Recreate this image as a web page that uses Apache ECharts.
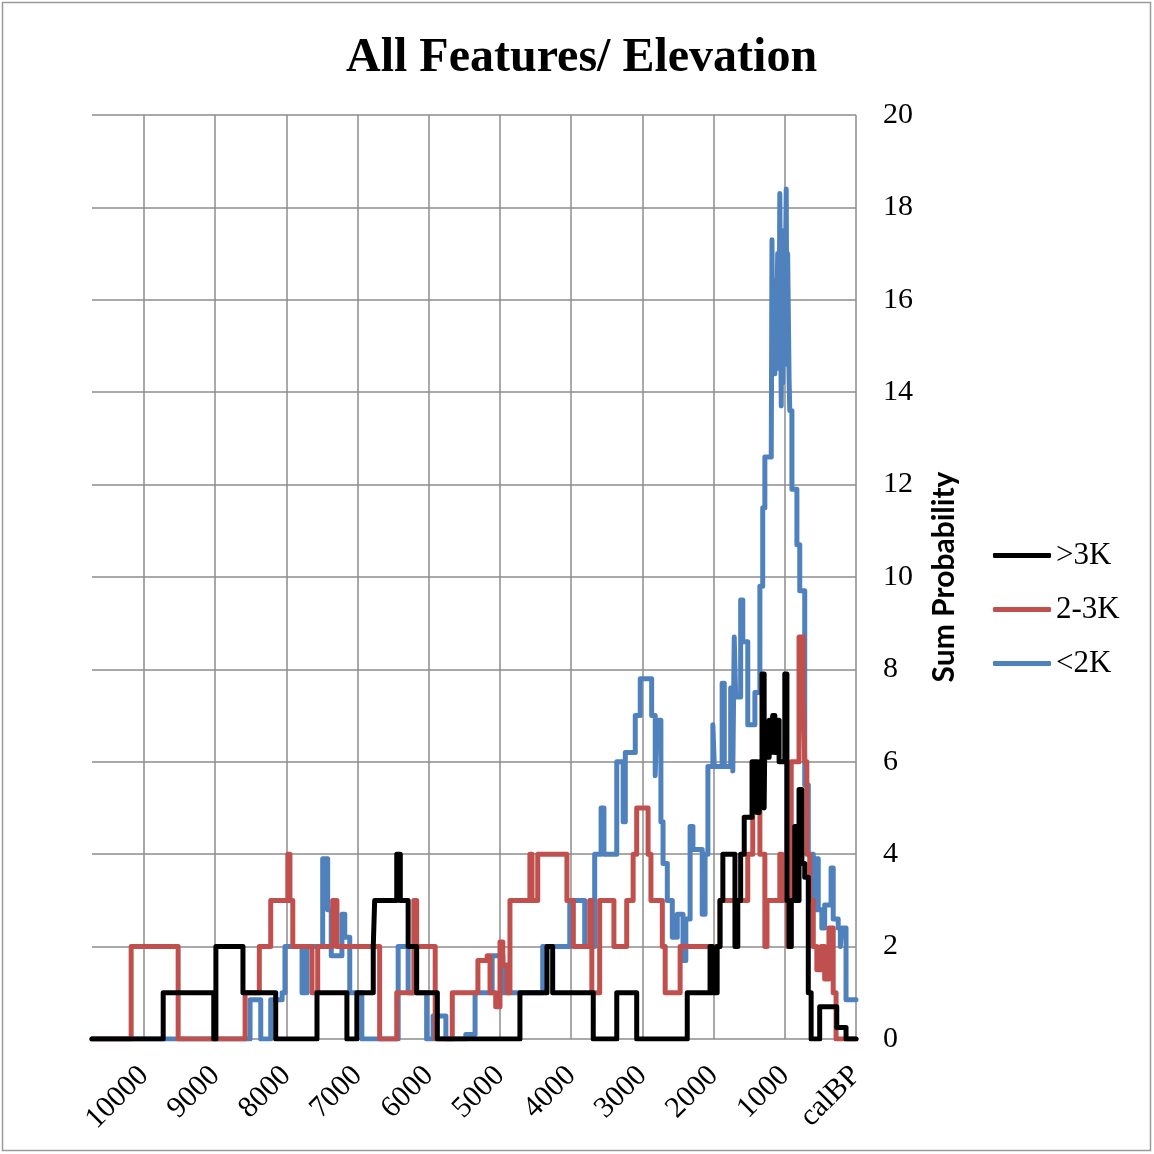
<!DOCTYPE html>
<html>
<head>
<meta charset="utf-8">
<title>All Features/ Elevation</title>
<script src="https://cdn.jsdelivr.net/npm/echarts@6/dist/echarts.min.js"></script>
<style>
  html, body { margin: 0; padding: 0; background: #ffffff; }
  #chart { width: 1154px; height: 1154px; }
</style>
</head>
<body>
<div id="chart"></div>
<script>
// Summed probability per elevation class, as step breakpoints [calBP, value]:
// each value holds from its year until the next (younger) year in the list.
const over3K = [
  [10730, 0], [9730, 1], [9020, 0], [8990, 2], [8610, 1], [8150, 0],
  [7570, 1], [7150, 0], [7010, 1], [6780, 2], [6760, 3], [6450, 4], [6400, 3],
  [6290, 2], [6170, 1], [5880, 0], [4720, 1], [4340, 2], [4260, 1], [3690, 0],
  [3360, 1], [3080, 0], [2370, 1], [2050, 2], [2020, 1], [1950, 2], [1910, 3],
  [1870, 4], [1700, 2], [1660, 3], [1620, 4], [1570, 4.8], [1460, 6], [1390, 4.9],
  [1360, 6], [1320, 7.9], [1290, 5], [1280, 6.6], [1250, 6.1], [1220, 6.9],
  [1190, 6.2], [1170, 7.0], [1140, 6.2], [1110, 6.9], [1080, 6.0], [1000, 7.9],
  [970, 3], [940, 2], [910, 3], [860, 4.6], [830, 3], [800, 5.4], [760, 3.8],
  [720, 3.5], [670, 1], [630, 0], [510, 0.7], [270, 0.25], [140, 0], [0, 0]
];

const from2to3K = [
  [10730, 0], [10180, 2], [9520, 0], [8580, 1], [8380, 2], [8220, 3], [7980, 4],
  [7950, 3], [7910, 2], [7640, 1], [7560, 2], [7350, 3], [7290, 2], [6690, 0],
  [6450, 1], [6210, 3], [6170, 2], [5910, 0], [5670, 1], [5310, 1.7], [5180, 1.8],
  [5140, 1.0], [5060, 0.7], [5000, 2.1], [4960, 1.6], [4900, 1.0], [4860, 3],
  [4580, 4], [4550, 3], [4470, 4], [4060, 3], [3970, 2], [3740, 3], [3710, 1],
  [3600, 3], [3400, 2], [3220, 3], [3130, 4], [3080, 5], [2920, 4], [2880, 3],
  [2720, 2], [2680, 1], [2470, 2], [1910, 3], [1520, 4], [1450, 5], [1350, 4],
  [1280, 2], [1250, 3], [1070, 4], [1040, 3], [960, 2], [910, 6], [800, 8.7],
  [740, 7.5], [720, 6], [690, 4], [650, 3], [600, 2], [550, 1.5], [490, 2],
  [440, 1.3], [380, 2.4], [320, 1], [280, 0], [0, 0]
];

const under2K = [
  [10730, 0], [8510, 0.85], [8360, 0], [8220, 0.85], [8060, 1], [8020, 2],
  [7780, 1], [7710, 2], [7490, 3.9], [7420, 2.8], [7370, 1.8], [7220, 2.7],
  [7180, 2.2], [7110, 1], [6940, 0], [6430, 2], [6290, 1], [6030, 0], [5940, 0.5],
  [5760, 0], [5480, 0.1], [5350, 1], [5110, 1.8], [4960, 1], [4400, 2], [4020, 3],
  [3810, 2], [3670, 4], [3580, 5], [3540, 4], [3360, 6], [3270, 4.7], [3240, 6.2],
  [3100, 7], [3030, 7.8], [2870, 7], [2820, 5.7], [2800, 6.9], [2740, 4.7],
  [2710, 3.8], [2650, 3.0], [2580, 2.2], [2510, 2.7], [2430, 1.7], [2390, 2.6],
  [2330, 4.6], [2290, 4.1], [2160, 2.7], [2120, 4.0], [2080, 5.9], [2010, 6.8],
  [1990, 5.9], [1880, 7.7], [1850, 5.9], [1760, 7.6], [1730, 5.8], [1710, 8.7],
  [1690, 7.4], [1620, 9.5], [1590, 8.6], [1520, 6.8], [1420, 7.5], [1350, 9.8],
  [1310, 11.5], [1280, 12.6], [1190, 12.7], [1180, 17.3], [1170, 14.4],
  [1140, 16.4], [1120, 14.5], [1100, 17.0], [1080, 15.0], [1070, 18.3],
  [1050, 13.7], [1040, 16.5], [1030, 14.2], [1010, 17.5], [1000, 15.4],
  [980, 18.4], [970, 14.6], [960, 17.0], [940, 14.3], [930, 13.6], [900, 11.9],
  [830, 10.7], [790, 9.7], [720, 5.5], [670, 4.0], [600, 2.8], [560, 3.9],
  [530, 2.8], [480, 2.4], [440, 2.9], [350, 3.7], [320, 2.6], [250, 2.4],
  [220, 2.0], [200, 2.4], [140, 0.85], [0, 0.85]
];

const seriesNames = ['>3K', '2-3K', '<2K'];
const seriesColors = ['#000000', '#C0504D', '#4F81BD'];
const zeroLabel = 'calBP';

const serif = '"Times New Roman", "Liberation Serif", serif';
const gridColor = '#8c8c8c';

function stepSeries(name, data, color, z) {
  return {
    name: name,
    type: 'line',
    step: 'end',
    data: data,
    z: z,
    showSymbol: false,
    symbol: 'none',
    color: color,
    lineStyle: { color: color, width: 5, cap: 'round', join: 'round' },
    emphasis: { disabled: true }
  };
}

const chart = echarts.init(document.getElementById('chart'), null, { renderer: 'canvas' });
chart.setOption({
  animation: false,
  backgroundColor: '#ffffff',
  title: {
    text: 'All Features/ Elevation',
    left: 341,
    top: 30,
    textStyle: { fontFamily: serif, fontWeight: 'bold', fontSize: 48, color: '#000' }
  },
  legend: {
    data: seriesNames,
    orient: 'vertical',
    left: 988,
    top: 535,
    itemWidth: 58,
    itemHeight: 5,
    itemGap: 23,
    icon: 'roundRect',
    textStyle: { fontFamily: serif, fontSize: 31, color: '#000', lineHeight: 30 }
  },
  grid: { left: 92, right: 298, top: 115, bottom: 115, containLabel: false },
  xAxis: {
    type: 'value',
    inverse: true,
    min: 0,
    max: 10730,
    interval: 1000,
    axisLine: { show: false },
    axisTick: { show: false },
    splitLine: { show: true, showMaxLine: false, lineStyle: { color: gridColor, width: 1.5 } },
    axisLabel: {
      rotate: 45,
      margin: 32,
      showMaxLabel: false,
      fontFamily: serif,
      fontSize: 30,
      color: '#000',
      formatter: function (v) { return v === 0 ? zeroLabel : String(v); }
    }
  },
  yAxis: {
    type: 'value',
    position: 'right',
    min: 0,
    max: 20,
    interval: 2,
    name: 'Sum Probability',
    nameLocation: 'middle',
    nameRotate: 90,
    nameGap: 73,
    nameTextStyle: { fontFamily: 'Lato, "Liberation Sans", sans-serif', fontWeight: 'bold', fontSize: 30, color: '#000' },
    axisLine: { show: false },
    axisTick: { show: false },
    splitLine: { show: true, lineStyle: { color: gridColor, width: 1.5 } },
    axisLabel: { margin: 27, fontFamily: serif, fontSize: 30, color: '#000' }
  },
  graphic: [{
    type: 'rect',
    silent: true,
    shape: { x: 2.5, y: 2.5, width: 1148, height: 1148 },
    style: { fill: 'none', stroke: '#9a9a9a', lineWidth: 1.5 }
  }],
  series: [
    stepSeries(seriesNames[0], over3K, seriesColors[0], 5),
    stepSeries(seriesNames[1], from2to3K, seriesColors[1], 4),
    stepSeries(seriesNames[2], under2K, seriesColors[2], 3)
  ]
});
</script>
</body>
</html>
